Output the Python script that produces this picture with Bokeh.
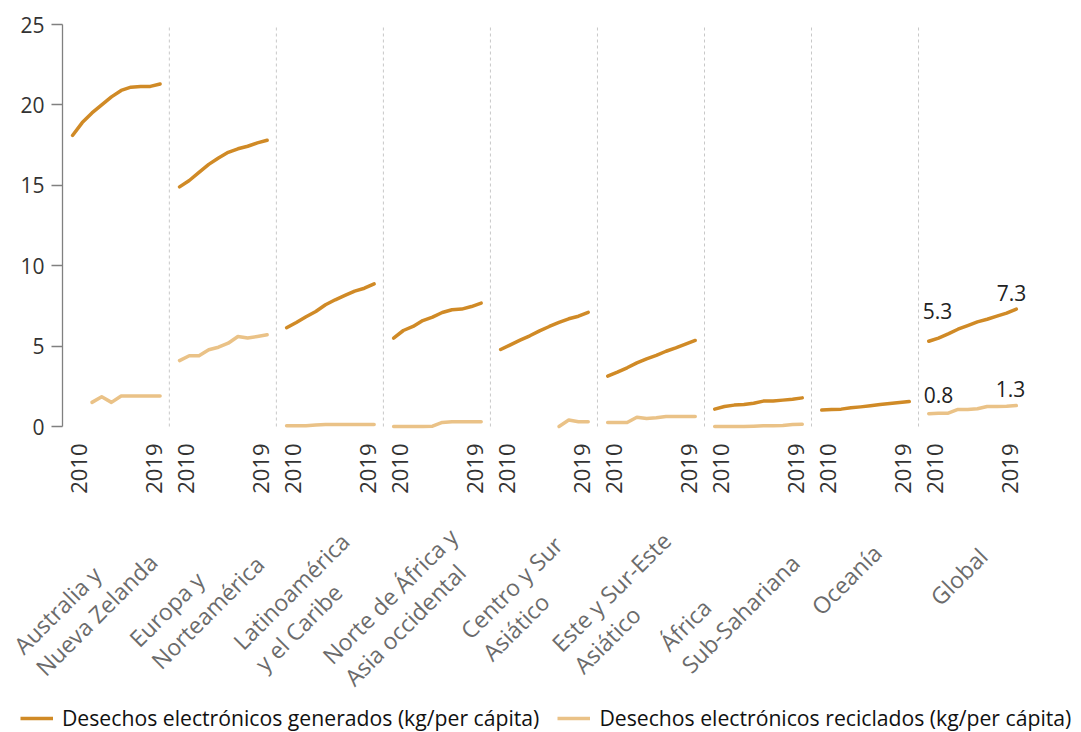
import numpy as np
from math import pi, sqrt
from bokeh.plotting import figure
from bokeh.layouts import column
from bokeh.models import Range1d, FixedTicker, Legend, LegendItem
from bokeh.core.properties import value
from bokeh.embed import file_html
from bokeh.resources import INLINE

# ---------------- data ----------------
regions = ["Australia y\nNueva Zelanda", "Europa y\nNorteamérica", "Latinoamérica\ny el Caribe",
           "Norte de África y\nAsia occidental", "Centro y Sur\nAsiático", "Este y Sur-Este\nAsiático",
           "África\nSub-Sahariana", "Oceanía", "Global"]
years = list(range(2010, 2020))
year_ticks = ["2010", "2019"]
nan = float("nan")

gen_aus = [18.1, 18.9, 19.5, 20.0, 20.5, 20.9, 21.1, 21.15, 21.15, 21.3]
gen_eur = [14.9, 15.3, 15.8, 16.3, 16.7, 17.05, 17.27, 17.43, 17.64, 17.8]
gen_lat = [6.14, 6.47, 6.82, 7.15, 7.57, 7.88, 8.15, 8.42, 8.6, 8.87]
gen_nor = [5.5, 5.97, 6.22, 6.59, 6.8, 7.09, 7.26, 7.3, 7.46, 7.67]
gen_cen = [4.79, 5.08, 5.37, 5.64, 5.95, 6.22, 6.47, 6.7, 6.86, 7.1]
gen_est = [3.13, 3.38, 3.65, 3.96, 4.21, 4.42, 4.68, 4.89, 5.12, 5.35]
gen_afr = [1.08, 1.24, 1.33, 1.37, 1.45, 1.58, 1.58, 1.64, 1.7, 1.78]
gen_oce = [1.02, 1.06, 1.08, 1.16, 1.22, 1.29, 1.37, 1.43, 1.49, 1.55]
gen_glo = [5.3, 5.5, 5.76, 6.05, 6.28, 6.51, 6.67, 6.86, 7.05, 7.3]

rec_aus = [nan, nan, 1.5, 1.85, 1.5, 1.9, 1.9, 1.9, 1.9, 1.9]
rec_eur = [4.1, 4.4, 4.4, 4.77, 4.93, 5.18, 5.6, 5.5, 5.6, 5.7]
rec_lat = [0.05, 0.05, 0.05, 0.1, 0.12, 0.12, 0.12, 0.12, 0.12, 0.12]
rec_nor = [0.0, 0.0, 0.0, 0.0, 0.02, 0.25, 0.3, 0.3, 0.3, 0.3]
rec_cen = [nan, nan, nan, nan, nan, nan, 0.0, 0.4, 0.3, 0.3]
rec_est = [0.25, 0.25, 0.25, 0.58, 0.5, 0.55, 0.62, 0.62, 0.62, 0.62]
rec_afr = [0.0, 0.0, 0.0, 0.0, 0.02, 0.05, 0.05, 0.06, 0.12, 0.14]
rec_oce = [nan] * 10
rec_glo = [0.8, 0.83, 0.83, 1.06, 1.06, 1.1, 1.24, 1.24, 1.26, 1.3]

generated = [gen_aus, gen_eur, gen_lat, gen_nor, gen_cen, gen_est, gen_afr, gen_oce, gen_glo]
recycled = [rec_aus, rec_eur, rec_lat, rec_nor, rec_cen, rec_est, rec_afr, rec_oce, rec_glo]
series_names = ["Desechos electrónicos generados (kg/per cápita)",
                "Desechos electrónicos reciclados (kg/per cápita)"]

# ---------------- layout / style ----------------
GEN_COLOR = "#D08A26"
REC_COLOR = "#EAC287"
FONT = value("Open Sans")
PITCH = 11.0            # panel pitch in year units
n = len(regions)
nyears = len(years)

W = 1073
H_TOP, H_BOT = 500, 232
ML, MT = 62, 18
PX_X, PX_Y = 9.73, 16.08          # pixels per year unit / per kg unit
ZERO_PX = 426                      # page row of the zero line
X0 = -1.03
X1 = X0 + (W - ML) / PX_X
Y1 = 25 + (ZERO_PX - 25 * PX_Y - MT) / PX_Y
Y0 = -(H_TOP - ZERO_PX) / PX_Y
YB = -(H_TOP + H_BOT - ZERO_PX) / PX_Y

p = figure(width=W, height=H_TOP, output_backend="svg", toolbar_location=None,
           x_range=Range1d(X0, X1), y_range=Range1d(Y0, Y1), x_axis_location=None,
           min_border_left=ML, min_border_top=MT, min_border_bottom=0, min_border_right=0)
p.frame_align = False
p.outline_line_color = None
p.grid.visible = False

yax = p.yaxis[0]
yax.bounds = (0, 25)
yax.ticker = FixedTicker(ticks=[0, 5, 10, 15, 20, 25])
yax.minor_tick_line_color = None
yax.major_tick_out = 11
yax.major_tick_in = 0
yax.major_tick_line_color = "#808080"
yax.axis_line_color = "#808080"
yax.axis_line_width = 1.3
yax.major_tick_line_width = 1.3
yax.major_label_text_font = "Open Sans"
yax.major_label_text_font_size = "21px"
yax.major_label_text_color = "#333333"
yax.major_label_standoff = 7

# panel dividers
div_x = [PITCH * i + (nyears - 1) + 0.95 for i in range(n - 1)]
p.segment(x0=div_x, x1=div_x, y0=[0] * len(div_x), y1=[25] * len(div_x),
          line_color="#c8c8c8", line_width=1, line_dash="3 3")

gen_renderers, rec_renderers = [], []
for i in range(n):
    xs = np.array([PITCH * i + (y - years[0]) for y in years], dtype=float)
    g = np.array(generated[i], dtype=float)
    r = np.array(recycled[i], dtype=float)
    if not np.all(np.isnan(r)):
        rec_renderers.append(p.line(xs, r, line_color=REC_COLOR, line_width=3.5,
                                    line_cap="round", line_join="round"))
    gen_renderers.append(p.line(xs, g, line_color=GEN_COLOR, line_width=3.5,
                                line_cap="round", line_join="round"))

# year labels under each panel
yl_x, yl_text, yl_off = [], [], []
for i in range(n):
    yl_x += [PITCH * i, PITCH * i + (nyears - 1)]
    yl_text += [year_ticks[0], year_ticks[1]]
    yl_off += [6, -6]
p.text(x=yl_x, y=[-17 / PX_Y] * len(yl_x), text=yl_text, angle=pi / 2, x_offset=yl_off,
       text_align="right", text_baseline="middle", text_font=FONT,
       text_font_size="22px", text_color="#333333")

# value annotations for Global
gi = n - 1
gx0 = PITCH * gi
gx1 = PITCH * gi + (nyears - 1)
p.text(x=[gx0, gx0], y=[generated[gi][0], recycled[gi][0]],
       text=[f"{generated[gi][0]:.1f}", f"{recycled[gi][0]:.1f}"],
       x_offset=[-6, -5], y_offset=[-30, -19], text_align="left", text_baseline="middle",
       text_font=FONT, text_font_size="21px", text_color="#222222")
p.text(x=[gx1, gx1], y=[generated[gi][-1], recycled[gi][-1]],
       text=[f"{generated[gi][-1]:.1f}", f"{recycled[gi][-1]:.1f}"],
       x_offset=[10, 9], y_offset=[-16, -17], text_align="right", text_baseline="middle",
       text_font=FONT, text_font_size="21px", text_color="#222222")

# ---------------- bottom strip: region labels + legend ----------------
pb = figure(width=W, height=H_BOT, output_backend="svg", toolbar_location=None,
            x_range=Range1d(X0 - ML / PX_X, X1), y_range=Range1d(YB, Y0),
            x_axis_location=None, y_axis_location=None,
            min_border_left=0, min_border_top=0, min_border_bottom=0, min_border_right=0)
pb.frame_align = False
pb.outline_line_color = None
pb.grid.visible = False

# region labels, rotated 45 degrees, left-justified lines;
# start of the first line placed from the width (in em) of the longest line
CW = {" ": .260, "A": .633, "Á": .633, "C": .631, "E": .556, "G": .738, "L": .524, "N": .763,
      "O": .781, "S": .549, "Z": .581, "a": .556, "á": .556, "b": .613, "c": .476, "d": .613,
      "e": .561, "é": .561, "f": .339, "h": .614, "i": .253, "í": .253, "l": .253, "m": .930,
      "n": .614, "o": .604, "r": .408, "s": .477, "t": .353, "u": .614, "v": .501, "y": .501,
      "-": .322, "p": .613}
FS = 23
def text_em(s):
    return sum(CW.get(c, .55) for c in s)

c45 = sqrt(0.5)
LH = 31.0
lx, ly, lt = [], [], []
for i, lab in enumerate(regions):
    lines = lab.split("\n")
    wem = max(text_em(s) for s in lines)
    sx0 = -39.8 - 15.16 * (wem - 6.0)    # px right of the 2010 point
    sy0 = 210.7 + 12.2 * (wem - 6.0)     # px below the zero line
    for k, line in enumerate(lines):
        sx = sx0 + k * LH * c45
        sy = sy0 + k * LH * c45
        lx.append(PITCH * i + sx / PX_X)
        ly.append(-sy / PX_Y)
        lt.append(line)
pb.text(x=lx, y=ly, text=lt, angle=pi / 4, text_align="left", text_baseline="alphabetic",
        text_font=FONT, text_font_size=f"{FS}px", text_color="#6b6b6b")

# legend (sample lines carry no visible data)
lg = pb.line(np.array([nan, nan]), np.array([nan, nan]), line_color=GEN_COLOR, line_width=3.5)
lr = pb.line(np.array([nan, nan]), np.array([nan, nan]), line_color=REC_COLOR, line_width=3.5)
legend = Legend(items=[LegendItem(label=series_names[0], renderers=[lg]),
                       LegendItem(label=series_names[1], renderers=[lr])],
                location=(20, 0), orientation="horizontal",
                glyph_width=33, glyph_height=20, label_standoff=9, spacing=18,
                padding=0, margin=0, border_line_color=None, background_fill_alpha=0,
                label_text_font="Open Sans", label_text_font_size="21.2px",
                label_text_color="#111111")
pb.add_layout(legend, "center")

layout = column(p, pb, spacing=0)
open("out.html", "w").write(file_html(layout, INLINE))
